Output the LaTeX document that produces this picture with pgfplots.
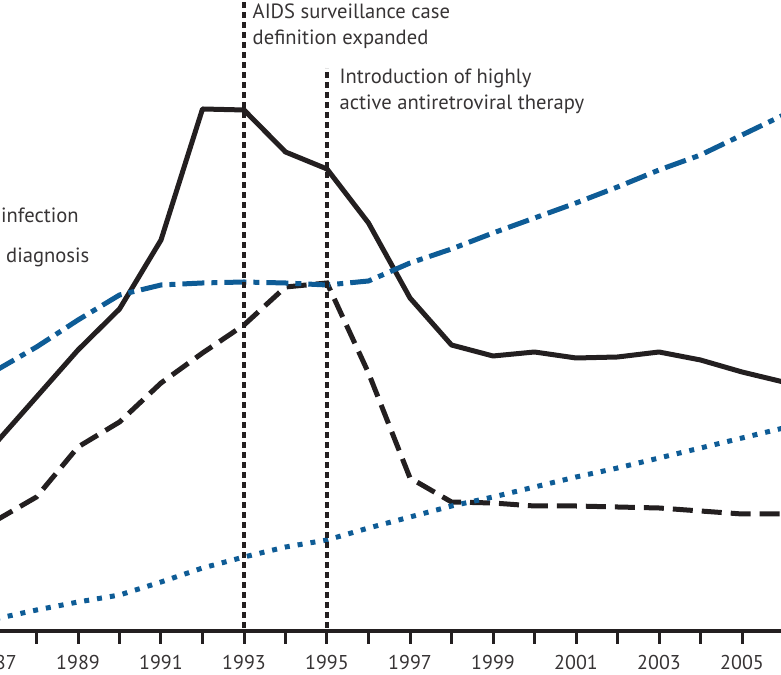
\documentclass[border=0pt]{standalone}
\usepackage{pgfplots}
\pgfplotsset{compat=1.18}
\usepackage{fontspec}
\setmainfont{PT Sans}
\definecolor{ink}{RGB}{35,31,32}
\definecolor{txt}{RGB}{55,52,53}
\definecolor{cdcblue}{RGB}{14,92,150}
\begin{document}
\begin{tikzpicture}[x=1bp,y=1bp]
\useasboundingbox (0,0) rectangle (781,675);
\clip (0,0) rectangle (781,675);
\begin{axis}[
  at={(-46.5bp,43.5bp)}, anchor=south west,
  scale only axis, width=871.5bp, height=631.5bp,
  xmin=1986, xmax=2007, ymin=-3.5, ymax=628,
  clip=false,
  axis x line*=bottom, axis y line=none,
  x axis line style={line width=4bp, ink, -},
  xtick={1987,1989,...,2005},
  xticklabels={1987,1989,1991,1993,1995,1997,1999,2001,2003,2005},
  minor xtick={1988,1990,...,2006},
  tick align=outside, xtick pos=bottom,
  major tick length=12bp, minor tick length=12bp,
  every tick/.style={line width=3bp, ink},
  minor tick style={line width=3bp, ink},
  xticklabel style={font=\fontsize{20bp}{24bp}\selectfont, text=txt, yshift=-8.5bp},
]
% solid black
\addplot[ink, line width=5bp, line join=round] coordinates {
 (1987,184) (1988,231) (1989,278) (1990,319) (1991,388) (1992,519) (1993,518)
 (1994,476) (1995,459) (1996,405) (1997,330) (1998,283) (1999,272) (2000,276)
 (2001,270) (2002,271) (2003,276) (2004,268) (2005,256) (2006,246)};
% dashed black
\addplot[ink, line width=5bp, dash pattern=on 20bp off 9bp] coordinates {
 (1987,107) (1988,131) (1989,181) (1990,206) (1991,245) (1992,275) (1993,303)
 (1994,341) (1995,345) (1996,255) (1997,150) (1998,126) (1999,125) (2000,122)
 (2001,122) (2002,121) (2003,120) (2004,117) (2005,114) (2006,114)};
% dash-dot blue
\addplot[cdcblue, line width=5bp, dash pattern=on 22bp off 7bp on 6bp off 7bp] coordinates {
 (1987,257) (1988,281) (1989,308) (1990,333) (1991,343) (1992,345) (1993,346)
 (1994,345) (1995,343) (1996,347) (1997,365) (1998,379) (1999,395) (2000,410)
 (2001,425) (2002,441) (2003,458) (2004,473) (2005,493) (2006,513)};
% dotted blue
\addplot[cdcblue, line width=5bp, dash pattern=on 5bp off 8bp] coordinates {
 (1987,9) (1988,18) (1989,26) (1990,33) (1991,46) (1992,60) (1993,71)
 (1994,81) (1995,88) (1996,100) (1997,111) (1998,122) (1999,131) (2000,141)
 (2001,151) (2002,160) (2003,170) (2004,180) (2005,190) (2006,200)};
% reference lines
\addplot[ink, line width=3.5bp, dash pattern=on 6bp off 4bp] coordinates {(1993,0) (1993,640)};
\addplot[ink, line width=3.5bp, dash pattern=on 6bp off 4bp] coordinates {(1995,0) (1995,560)};
\end{axis}
\begin{scope}[every node/.style={font=\fontsize{20.6bp}{24bp}\selectfont, text=txt, inner sep=0pt}]
\node[anchor=base west] at (252.5,656.7) {AIDS surveillance case};
\node[anchor=base west] at (252.5,630) {definition expanded};
\node[anchor=base west] at (339.5,591.7) {Introduction of highly};
\node[anchor=base west] at (339.5,565) {active antiretroviral therapy};
\node[anchor=base west] at (1,452) {infection};
\node[anchor=base west] at (6,412) {diagnosis};
\end{scope}
\end{tikzpicture}
\end{document}
